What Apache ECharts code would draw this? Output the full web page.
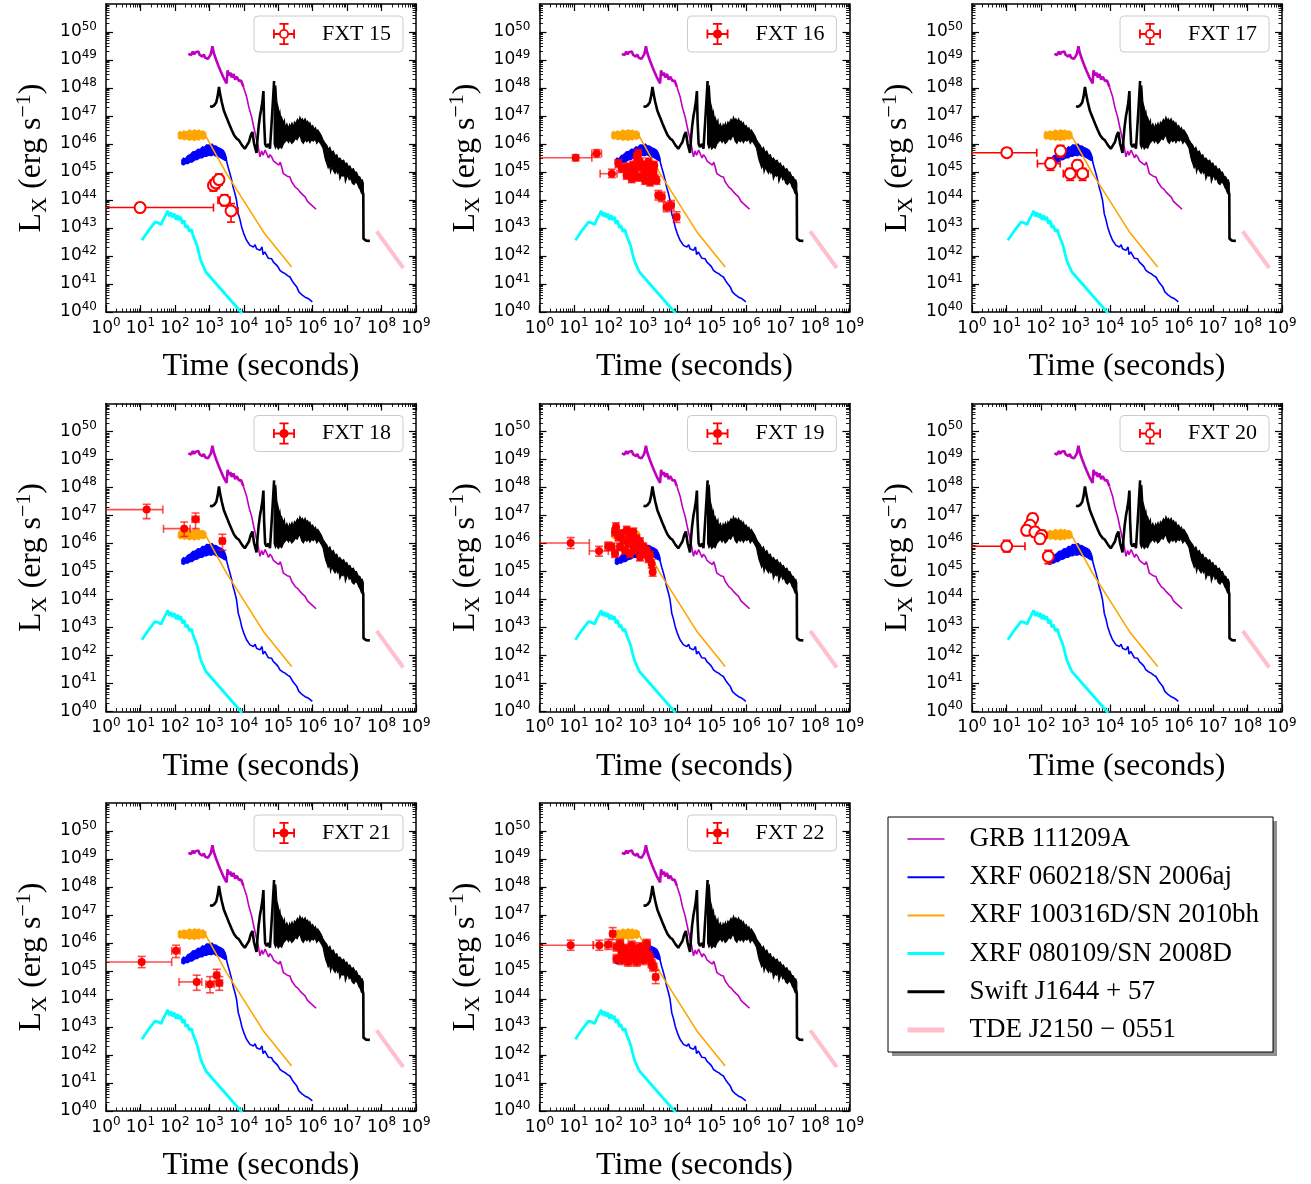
<!DOCTYPE html>
<html>
<head>
<meta charset="utf-8">
<script src="https://cdn.jsdelivr.net/npm/echarts@6.0.0/dist/echarts.min.js"></script>
<style>
html,body{margin:0;padding:0;background:#fff;}
#chart{width:1311px;height:1184px;}
</style>
</head>
<body>
<div id="chart"></div>
<script>
// ===== Data. Pairs are [log10 t (s), log10 Lx (erg s^-1)] =====
const xTickExponents = [0,1,2,3,4,5,6,7,8,9];
const yTickExponents = [40,41,42,43,44,45,46,47,48,49,50];

const curveNames = ['GRB 111209A','XRF 060218/SN 2006aj','XRF 100316D/SN 2010bh','XRF 080109/SN 2008D','Swift J1644 + 57','TDE J2150 \u2212 0551'];
const curveColors = ['#bf00bf','#0000ff','#ffa500','#00ffff','#000000','#ffc0cb'];

const grb111209AEarly = [[2.39,49.22],[2.43,49.27],[2.47,49.18],[2.52,49.3],[2.56,49.2],[2.6,49.28],[2.64,49.24],[2.68,49.3],[2.72,49.18],[2.76,49.22],[2.8,49.12],[2.84,49.2],[2.88,49.08],[2.92,49.14],[2.96,49.04],[3.0,49.1],[3.04,49.2],[3.09,49.49],[3.13,49.25],[3.2,49.0],[3.27,48.78],[3.33,48.6],[3.4,48.4],[3.45,48.28],[3.5,48.16],[3.53,48.63],[3.57,48.45],[3.61,48.55],[3.65,48.38],[3.7,48.5],[3.75,48.3],[3.8,48.4],[3.86,48.25],[3.92,48.27],[3.99,48.04]];
const grb111209ALate = [[3.99,48.04],[4.08,47.7],[4.15,47.3],[4.23,46.96],[4.28,46.66],[4.33,46.6],[4.38,46.1],[4.42,45.89],[4.47,45.54],[4.52,45.75],[4.56,45.6],[4.62,45.78],[4.67,45.71],[4.72,45.5],[4.76,45.62],[4.81,45.54],[4.86,45.4],[4.91,45.45],[4.96,45.3],[5.02,45.25],[5.06,45.35],[5.1,45.18],[5.15,44.94],[5.2,45.0],[5.26,44.85],[5.34,44.82],[5.39,44.65],[5.44,44.64],[5.5,44.45],[5.56,44.4],[5.63,44.29],[5.7,44.2],[5.78,44.11],[5.85,43.95],[5.92,43.87],[6.0,43.78],[6.05,43.72],[6.1,43.67]];

const xrf060218Line = [[3.48,45.48],[3.55,45.15],[3.6,44.94],[3.65,44.7],[3.69,44.46],[3.74,44.25],[3.79,43.99],[3.84,43.51],[3.89,43.3],[3.94,43.03],[4.0,42.8],[4.04,42.75],[4.08,42.56],[4.13,42.5],[4.18,42.38],[4.23,42.45],[4.28,42.32],[4.33,42.4],[4.37,42.26],[4.42,42.3],[4.47,42.2],[4.53,42.32],[4.56,42.05],[4.61,42.15],[4.66,42.08],[4.71,41.92],[4.76,41.98],[4.81,41.9],[4.86,41.78],[4.93,41.7],[4.99,41.62],[5.05,41.49],[5.12,41.42],[5.2,41.37],[5.27,41.3],[5.34,41.25],[5.41,41.1],[5.47,41.0],[5.54,40.89],[5.6,40.72],[5.63,40.65],[5.7,40.6],[5.78,40.53],[5.87,40.48],[5.93,40.42],[5.99,40.36]];
const xrf060218BandTop = [[2.2,45.42],[2.25,45.5],[2.3,45.47],[2.37,45.58],[2.44,45.62],[2.52,45.72],[2.6,45.74],[2.67,45.82],[2.73,45.81],[2.8,45.9],[2.85,45.88],[2.92,45.97],[3.02,45.96],[3.08,46.0],[3.12,45.94],[3.2,45.93],[3.26,45.87],[3.34,45.83],[3.41,45.77],[3.46,45.65],[3.5,45.5]];
const xrf060218BandBottom = [[2.2,45.28],[2.26,45.25],[2.3,45.3],[2.38,45.3],[2.44,45.36],[2.5,45.35],[2.58,45.43],[2.65,45.44],[2.72,45.5],[2.8,45.5],[2.86,45.57],[2.92,45.56],[2.99,45.6],[3.05,45.58],[3.12,45.62],[3.2,45.56],[3.26,45.55],[3.36,45.48],[3.44,45.42],[3.5,45.4]];

const xrf100316DLine = [[2.88,46.32],[3.5,44.94],[4.57,42.86],[5.39,41.61]];
const xrf100316DBandTop = [[2.1,46.39],[2.14,46.45],[2.2,46.41],[2.26,46.47],[2.34,46.43],[2.42,46.5],[2.5,46.45],[2.57,46.51],[2.63,46.46],[2.7,46.5],[2.75,46.44],[2.82,46.47],[2.9,46.39]];
const xrf100316DBandBottom = [[2.1,46.22],[2.16,46.17],[2.2,46.21],[2.28,46.15],[2.34,46.19],[2.42,46.13],[2.5,46.17],[2.57,46.12],[2.63,46.17],[2.7,46.14],[2.75,46.2],[2.82,46.17],[2.9,46.22]];

const xrf080109 = [[1.04,42.56],[1.2,42.85],[1.42,43.21],[1.52,43.18],[1.6,43.12],[1.66,43.3],[1.7,43.39],[1.75,43.5],[1.79,43.61],[1.84,43.42],[1.88,43.55],[1.93,43.38],[1.98,43.51],[2.03,43.3],[2.08,43.45],[2.12,43.28],[2.17,43.4],[2.22,43.15],[2.27,43.27],[2.32,43.0],[2.36,43.1],[2.42,42.88],[2.48,42.95],[2.53,42.72],[2.58,42.74],[2.62,42.45],[2.66,42.3],[2.7,42.08],[2.75,41.85],[2.8,41.7],[2.9,41.43],[3.79,40.18],[3.95,39.95]];

const swiftJ1644Early = [[3.02,47.35],[3.08,47.33],[3.14,47.38],[3.2,47.48],[3.24,47.7],[3.28,48.04],[3.31,47.8],[3.36,47.5],[3.42,47.2],[3.5,46.95],[3.57,46.73],[3.65,46.5],[3.72,46.31],[3.79,46.2],[3.86,46.13],[3.95,45.95],[4.03,45.83],[4.09,45.95],[4.15,46.07],[4.2,46.3],[4.25,46.43],[4.3,46.01],[4.37,45.68],[4.4,46.2],[4.43,46.61],[4.47,47.0],[4.5,47.2],[4.54,47.5],[4.57,47.89],[4.59,46.8],[4.62,46.0],[4.66,45.89],[4.72,46.0],[4.76,45.83],[4.8,46.6],[4.84,47.4],[4.88,48.25]];
const swiftJ1644BandTop = [[4.88,48.25],[4.9,47.6],[4.93,48.1],[4.96,47.5],[5.0,47.3],[5.03,47.05],[5.05,47.15],[5.08,46.85],[5.1,46.95],[5.15,46.75],[5.18,46.85],[5.2,46.6],[5.25,46.72],[5.3,46.55],[5.33,46.7],[5.36,46.62],[5.4,46.75],[5.44,46.6],[5.47,46.78],[5.5,46.72],[5.56,46.88],[5.6,46.8],[5.63,46.96],[5.67,46.84],[5.7,46.9],[5.74,46.8],[5.78,46.9],[5.82,46.77],[5.85,46.82],[5.9,46.7],[5.92,46.76],[5.96,46.62],[6.0,46.66],[6.05,46.52],[6.08,46.58],[6.12,46.44],[6.15,46.5],[6.21,46.38],[6.25,46.3],[6.3,46.15],[6.35,46.05],[6.41,45.95],[6.46,45.8],[6.5,45.88],[6.55,45.7],[6.6,45.75],[6.65,45.58],[6.7,45.62],[6.75,45.45],[6.79,45.5],[6.85,45.38],[6.9,45.42],[6.95,45.28],[6.99,45.32],[7.04,45.18],[7.08,45.22],[7.13,45.08],[7.18,45.12],[7.23,44.98],[7.27,45.0],[7.32,44.85],[7.37,44.82],[7.41,44.7],[7.44,44.72],[7.47,44.6]];
const swiftJ1644BandBottom = [[4.88,46.0],[4.92,45.85],[4.96,45.95],[5.0,45.82],[5.05,45.9],[5.1,45.85],[5.15,46.0],[5.2,46.08],[5.25,46.15],[5.3,46.05],[5.34,46.15],[5.39,46.02],[5.44,46.08],[5.5,46.2],[5.55,46.15],[5.6,46.28],[5.63,46.31],[5.68,46.1],[5.73,46.02],[5.78,46.15],[5.83,46.08],[5.88,46.16],[5.92,46.05],[5.97,46.15],[6.02,46.1],[6.07,46.18],[6.12,46.02],[6.17,46.12],[6.21,46.05],[6.26,45.95],[6.3,45.85],[6.35,45.55],[6.38,45.4],[6.41,45.3],[6.45,45.15],[6.49,45.25],[6.52,45.0],[6.56,45.18],[6.6,45.05],[6.65,44.95],[6.69,45.08],[6.72,44.95],[6.76,45.02],[6.79,44.75],[6.84,44.9],[6.88,44.85],[6.92,44.95],[6.95,44.65],[6.99,44.8],[7.02,44.9],[7.06,44.72],[7.1,44.78],[7.15,44.6],[7.2,44.55],[7.25,44.65],[7.3,44.58],[7.34,44.45],[7.37,44.4],[7.42,44.23],[7.47,44.2]];
const swiftJ1644Tail = [[7.44,44.35],[7.47,44.2],[7.475,42.62],[7.55,42.55],[7.66,42.54]];

const tdeJ2150 = [[7.86,42.88],[8.63,41.57]];

// FXT points: [log t, log L, log t_lo, log t_hi, log L_lo, log L_hi] or [log t, log L, dlog t, dlog L]
const fxt15 = [[0.99,43.73,-1,3.12,43.57,43.89],[3.12,44.52,3.05,3.19,44.32,44.72],[3.19,44.61,3.12,3.26,44.41,44.81],[3.28,44.73,3.2,3.36,44.53,44.93],[3.44,43.99,3.25,3.6,43.79,44.19],[3.63,43.61,3.52,3.83,43.21,43.87]];
const fxt16 = [[1.05,45.51,-1,1.52,45.4,45.62],[1.66,45.66,1.52,1.8,45.52,45.8],[2.10,44.94,1.76,2.25,44.8,45.1],
 [2.29,45.30,0.08,0.14],[2.39,45.12,0.09,0.14],[2.53,45.18,0.08,0.14],[2.63,45.00,0.08,0.14],[2.72,45.24,0.08,0.14],[2.77,45.06,0.07,0.14],[2.82,45.54,0.06,0.14],[2.87,45.66,0.07,0.14],[2.92,45.36,0.06,0.14],[2.97,45.18,0.07,0.14],[3.02,44.88,0.07,0.14],[3.06,45.24,0.06,0.14],[3.11,45.00,0.06,0.14],[3.16,45.36,0.06,0.14],[3.21,45.12,0.06,0.14],[3.26,44.82,0.06,0.14],[3.31,45.00,0.06,0.14],[3.33,45.24,0.06,0.14],[3.35,44.76,0.06,0.14],[3.40,44.70,0.06,0.14],[2.68,44.76,0.08,0.14],[2.82,44.82,0.07,0.14],[2.53,44.88,0.08,0.14],[2.92,44.82,0.07,0.14],[3.06,44.70,0.06,0.14],[3.21,44.64,0.06,0.14],[3.45,44.17,0.08,0.17],[3.55,44.11,0.08,0.17],[3.69,43.75,0.09,0.17],[3.82,43.81,0.08,0.17],[3.98,43.39,0.08,0.19]];
const fxt17 = [[1.01,45.69,-1,1.88,45.56,45.84],[2.28,45.30,1.90,2.56,45.06,45.51],[2.57,45.75,2.5,2.64,45.54,45.95],[2.85,44.94,2.65,3.0,44.70,45.13],[3.06,45.24,2.95,3.17,45.04,45.42],[3.21,44.94,2.94,3.37,44.70,45.13]];
const fxt18 = [[1.18,47.21,-1,1.65,46.89,47.40],[2.27,46.53,1.67,2.44,46.25,46.77],[2.60,46.87,2.5,2.7,46.53,47.09],[3.38,46.09,3.3,3.45,45.76,46.33]];
const fxt19 = [[0.905,46.02,-1,1.447,45.82,46.21],[1.728,45.73,1.447,1.998,45.55,45.9],[1.998,45.90,1.9,2.1,45.75,46.05],
 [2.095,45.88,0.08,0.14],[2.192,45.64,0.08,0.14],[2.221,46.59,0.07,0.15],[2.192,46.41,0.08,0.14],[2.289,46.23,0.08,0.14],[2.337,45.88,0.08,0.14],[2.386,46.35,0.08,0.14],[2.434,46.11,0.08,0.14],[2.483,45.76,0.08,0.14],[2.531,46.47,0.07,0.14],[2.579,45.995,0.07,0.14],[2.628,46.29,0.07,0.14],[2.628,45.64,0.07,0.14],[2.676,46.11,0.07,0.14],[2.724,46.41,0.07,0.14],[2.724,45.76,0.07,0.14],[2.773,45.88,0.07,0.14],[2.821,46.17,0.07,0.14],[2.870,45.94,0.06,0.14],[2.918,46.06,0.06,0.14],[2.918,45.52,0.06,0.14],[2.966,45.76,0.06,0.14],[3.015,45.88,0.06,0.14],[3.063,45.64,0.06,0.14],[3.112,45.76,0.06,0.14],[3.160,45.46,0.06,0.14],[3.208,45.58,0.06,0.14],[3.257,45.28,0.06,0.15],[3.286,44.98,0.06,0.15]];
const fxt20 = [[1.007,45.90,-1,1.539,45.70,46.11],[1.761,46.89,1.7,1.82,46.71,47.07],[1.684,46.65,1.62,1.75,46.47,46.83],[1.587,46.47,1.52,1.65,46.29,46.65],[1.829,46.41,1.76,1.9,46.23,46.59],[2.023,46.29,1.95,2.1,46.11,46.47],[1.974,46.17,1.9,2.05,45.99,46.35],[2.216,45.54,2.14,2.29,45.28,45.76]];
const fxt21 = [[1.036,45.32,-1,1.907,45.12,45.52],[2.033,45.72,1.907,2.15,45.48,45.92],[2.633,44.61,2.12,2.78,44.31,44.85],[3.020,44.53,2.9,3.14,44.22,44.8],[3.213,44.85,3.15,3.28,44.63,45.06],[3.290,44.57,3.2,3.38,44.31,44.8]];
const fxt22 = [[0.905,45.92,-1,1.563,45.74,46.1],[1.737,45.92,1.563,1.95,45.74,46.1],[1.998,45.95,1.9,2.1,45.77,46.13],[2.124,46.33,2.05,2.2,46.12,46.55],
 [2.24,45.86,0.1,0.15],[2.337,45.98,0.1,0.15],[2.386,45.68,0.1,0.15],[2.483,45.80,0.1,0.15],[2.531,45.50,0.1,0.15],[2.628,45.62,0.1,0.15],[2.676,45.92,0.1,0.15],[2.724,45.44,0.1,0.15],[2.821,45.74,0.1,0.15],[2.870,45.50,0.1,0.15],[2.918,45.86,0.1,0.15],[2.966,45.62,0.1,0.15],[3.015,45.38,0.1,0.15],[3.063,45.68,0.1,0.15],[3.112,45.98,0.1,0.15],[3.160,45.56,0.1,0.15],[3.208,45.44,0.1,0.15],[3.257,45.26,0.1,0.15],[3.305,45.14,0.1,0.15],[2.24,45.44,0.1,0.15],[2.386,45.38,0.1,0.15],[2.579,45.32,0.1,0.15],[2.821,45.32,0.1,0.15],[3.373,44.79,3.3,3.45,44.55,45.03]];

const panelNames = ['FXT 15','FXT 16','FXT 17','FXT 18','FXT 19','FXT 20','FXT 21','FXT 22'];
const panelData = [fxt15, fxt16, fxt17, fxt18, fxt19, fxt20, fxt21, fxt22];
const panelOpen = [true, false, true, false, false, true, false, false];

// ===== Layout =====
const colLeft = [106, 539.5, 972];
const rowTop = [4, 403.5, 803];
const GW = 310, GH = 308;

const P = v => Math.pow(10, v);
const toXY = arr => arr.map(p => [P(p[0]), P(p[1])]);
const xMajor = xTickExponents.map(P);
const yMajor = yTickExponents.concat([51]).map(P);
const minorOf = (e0, e1) => { const out = []; for (let e = e0; e < e1; e++) for (let k = 2; k <= 9; k++) out.push(k * P(e)); return out; };
const xMinor = minorOf(0, 9);
const yMinor = minorOf(40, 51);

const tickRich = {
  b: {fontFamily: 'DejaVu Sans', fontSize: 17, lineHeight: 23, color: '#000'},
  s: {fontFamily: 'DejaVu Sans', fontSize: 12, lineHeight: 13, verticalAlign: 'top', color: '#000'}
};
const powFmt = v => '{b|10}{s|' + Math.round(Math.log10(v)) + '}';

const grids = [], xAxes = [], yAxes = [], series = [], legends = [];

function makeAxes(g, isX) {
  const list = isX ? xAxes : yAxes;
  const base = {type: 'log', logBase: 10, gridIndex: g, splitLine: {show: false}, splitArea: {show: false},
    min: isX ? 1 : 1e40, max: isX ? 1e9 : 1e51, axisPointer: {show: false}, silent: true};
  const major = isX ? xMajor : yMajor, minor = isX ? xMinor : yMinor;
  const posA = isX ? 'bottom' : 'left', posB = isX ? 'top' : 'right';
  const lineOn = {show: true, onZero: false, lineStyle: {color: '#000', width: 1.5}};
  const lineOff = {show: false, onZero: false};
  const majTick = {show: true, inside: true, length: 7, lineStyle: {color: '#000', width: 1.2}, customValues: major};
  const minTick = {show: true, inside: true, length: 3.5, lineStyle: {color: '#000', width: 0.9}, customValues: minor};
  const labelVals = isX ? xMajor : yTickExponents.map(P);
  const a0 = Object.assign({}, base, {position: posA, axisLine: lineOn, axisTick: majTick,
    axisLabel: {show: true, customValues: labelVals, margin: isX ? 5 : 9, formatter: powFmt, rich: tickRich, color: '#000'}});
  if (isX) {
    Object.assign(a0, {name: 'Time (seconds)', nameLocation: 'middle', nameGap: 38,
      nameTextStyle: {fontFamily: 'Liberation Serif', fontSize: 32, color: '#000', lineHeight: 34}});
  } else {
    Object.assign(a0, {name: '{n|L}{sub|X}{n| (erg s}{sup|\u22121}{n|)}', nameLocation: 'middle', nameGap: 55, nameRotate: 90,
      nameTextStyle: {color: '#000', rich: {
        n: {fontFamily: 'Liberation Serif', fontSize: 32, lineHeight: 38, color: '#000'},
        sub: {fontFamily: 'Liberation Serif', fontSize: 22, lineHeight: 23, verticalAlign: 'bottom', color: '#000'},
        sup: {fontFamily: 'Liberation Serif', fontSize: 22, lineHeight: 23, verticalAlign: 'top', color: '#000'}
      }}});
  }
  list.push(a0);
  list.push(Object.assign({}, base, {position: posA, axisLine: lineOff, axisTick: minTick, axisLabel: {show: false}}));
  list.push(Object.assign({}, base, {position: posB, axisLine: lineOn, axisTick: majTick, axisLabel: {show: false}}));
  list.push(Object.assign({}, base, {position: posB, axisLine: lineOff, axisTick: minTick, axisLabel: {show: false}}));
}

function lineS(g, name, pts, color, width, z) {
  return {type: 'line', name, xAxisIndex: 4 * g, yAxisIndex: 4 * g, data: toXY(pts), symbol: 'none', showSymbol: false,
    lineStyle: {color, width}, itemStyle: {color}, z: z || 2, silent: true, clip: true, animation: false};
}
function bandS(g, name, top, bottom, color, z) {
  const pts = toXY(top.concat(bottom.slice().reverse()));
  return {type: 'custom', name, xAxisIndex: 4 * g, yAxisIndex: 4 * g, clip: true, silent: true, z: z || 2, animation: false,
    data: [pts[0]],
    renderItem: (params, api) => ({type: 'polygon', shape: {points: pts.map(p => api.coord(p))},
      style: {fill: color, stroke: color, lineWidth: 1.2, lineJoin: 'miter'}})};
}
function errS(g, name, pts, color) {
  const data = pts.map(p => p.length === 4
    ? [P(p[0]), P(p[1]), P(p[0] - p[2]), P(p[0] + p[2]), P(p[1] - p[3]), P(p[1] + p[3])]
    : [P(p[0]), P(p[1]), P(p[2]), P(p[3]), P(p[4]), P(p[5])]);
  return {type: 'custom', name, xAxisIndex: 4 * g, yAxisIndex: 4 * g, clip: true, silent: true, z: 5, animation: false,
    data,
    renderItem: (params, api) => {
      const c = api.coord([api.value(0), api.value(1)]);
      const xl = api.coord([api.value(2), api.value(1)])[0];
      const xh = api.coord([api.value(3), api.value(1)])[0];
      const yl = api.coord([api.value(0), api.value(4)])[1];
      const yh = api.coord([api.value(0), api.value(5)])[1];
      const st = {stroke: color, lineWidth: 1.6};
      const k = 4;
      const L = (x1, y1, x2, y2) => ({type: 'line', shape: {x1, y1, x2, y2}, style: st});
      return {type: 'group', children: [
        L(xl, c[1], xh, c[1]), L(c[0], yl, c[0], yh),
        L(xl, c[1] - k, xl, c[1] + k), L(xh, c[1] - k, xh, c[1] + k),
        L(c[0] - k, yl, c[0] + k, yl), L(c[0] - k, yh, c[0] + k, yh)
      ]};
    }};
}

const iconOpen = 'path://M0 7H2V17H0Z M22 7H24V17H22Z M7 0H17V2H7Z M7 22H17V24H7Z M1 11H6.6V13H1Z M17.4 11H23V13H17.4Z M11 1H13V6.6H11Z M11 17.4H13V23H11Z M17.5 12A5.5 5.5 0 1 1 6.5 12A5.5 5.5 0 1 1 17.5 12Z M15.5 12A3.5 3.5 0 1 0 8.5 12A3.5 3.5 0 1 0 15.5 12Z';
const iconFilled = 'path://M0 7H2V17H0Z M22 7H24V17H22Z M7 0H17V2H7Z M7 22H17V24H7Z M1 11H23V13H1Z M11 1H13V23H11Z M17 12A5 5 0 1 1 7 12A5 5 0 1 1 17 12Z';

for (let g = 0; g < 8; g++) {
  const row = Math.floor(g / 3), col = g % 3;
  const left = colLeft[col], top = rowTop[row];
  grids.push({left, top, width: GW, height: GH, containLabel: false, outerBoundsMode: 'none', show: false});
  makeAxes(g, true);
  makeAxes(g, false);
  series.push(lineS(g, curveNames[0], grb111209ALate, curveColors[0], 1.6, 2));
  series.push(lineS(g, curveNames[0], grb111209AEarly, curveColors[0], 2.6, 2));
  series.push(lineS(g, curveNames[1], xrf060218Line, curveColors[1], 1.6, 2));
  series.push(bandS(g, curveNames[1], xrf060218BandTop, xrf060218BandBottom, curveColors[1], 2));
  series.push(lineS(g, curveNames[2], xrf100316DLine, curveColors[2], 1.6, 2));
  series.push(bandS(g, curveNames[2], xrf100316DBandTop, xrf100316DBandBottom, curveColors[2], 2));
  series.push(lineS(g, curveNames[3], xrf080109, curveColors[3], 2.8, 2));
  series.push(lineS(g, curveNames[4], swiftJ1644Early, curveColors[4], 2.6, 3));
  series.push(bandS(g, curveNames[4], swiftJ1644BandTop, swiftJ1644BandBottom, curveColors[4], 3));
  series.push(lineS(g, curveNames[4], swiftJ1644Tail, curveColors[4], 2.6, 3));
  series.push(lineS(g, curveNames[5], tdeJ2150, curveColors[5], 4, 3));

  const open = panelOpen[g];
  const errColor = open ? '#ff0000' : 'rgba(255,0,0,0.7)';
  series.push(errS(g, panelNames[g], panelData[g], errColor));
  series.push({type: 'scatter', name: panelNames[g], xAxisIndex: 4 * g, yAxisIndex: 4 * g, silent: true, z: 6, animation: false,
    data: toXY(panelData[g]), symbol: 'circle', symbolSize: open ? 11 : 8,
    itemStyle: open ? {color: '#ffffff', borderColor: '#ff0000', borderWidth: 2, opacity: 1} : {color: '#ff0000', opacity: 1}});

  legends.push({
    data: [{name: panelNames[g], icon: open ? iconOpen : iconFilled, itemStyle: {color: '#ff0000', borderWidth: 0, opacity: 1}}],
    left: left + 148, top: top + 12, orient: 'horizontal', z: 8,
    itemWidth: 22, itemHeight: 22, padding: [6, 12, 6, 19],
    backgroundColor: '#ffffff', borderColor: '#cccccc', borderWidth: 1, borderRadius: 4,
    selectedMode: false,
    textStyle: {fontFamily: 'Liberation Serif', fontSize: 22, lineHeight: 24, color: '#000', padding: [0, 0, 0, 22]}
  });
}

const legendWidths = [1.6, 2, 2, 3, 3, 5];
legends.push({
  data: curveNames.map((n, i) => ({name: n, lineStyle: {width: legendWidths[i], color: curveColors[i]}, itemStyle: {color: curveColors[i], opacity: 0}})),
  orient: 'vertical', left: 888, top: 817, z: 8,
  itemWidth: 37, itemHeight: 14, itemGap: 11.2,
  padding: [8.5, 14, 8.5, 17],
  backgroundColor: '#ffffff', borderColor: '#000000', borderWidth: 1, borderRadius: 0,
  selectedMode: false,
  textStyle: {fontFamily: 'Liberation Serif', fontSize: 27, lineHeight: 27, color: '#000', padding: [0, 0, 0, 20]}
});

const chart = echarts.init(document.getElementById('chart'), null, {renderer: 'canvas', width: 1311, height: 1184});
chart.setOption({
  animation: false,
  backgroundColor: '#ffffff',
  grid: grids, xAxis: xAxes, yAxis: yAxes, series, legend: legends,
  graphic: [{type: 'rect', left: 892, top: 821, shape: {width: 385, height: 235}, style: {fill: '#8f8f8f'}, z: 1, silent: true}]
});
</script>
</body>
</html>
